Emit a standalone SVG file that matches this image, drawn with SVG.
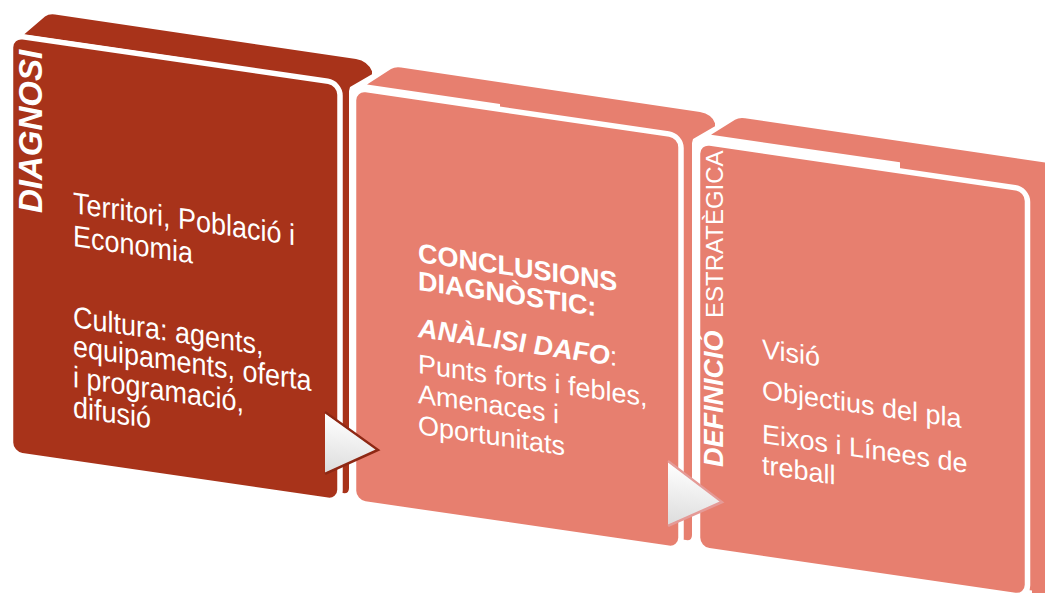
<svg xmlns="http://www.w3.org/2000/svg" width="1045" height="593" viewBox="0 0 1045 593">
<defs>
<style>
.c1{fill:#A8331A}
.c2{fill:#E77F6F}
.face{stroke:#FFFFFF;stroke-width:5.5}
.t{font-family:"Liberation Sans",Arial,sans-serif;fill:#FFFFFF;font-size:27px}
.big{font-size:30px}
.b{font-weight:bold}
.bi{font-weight:bold;font-style:italic}
.r{font-weight:normal;font-style:normal}
</style>
<linearGradient id="arrowFill" x1="0" y1="0" x2="0" y2="1">
<stop offset="0" stop-color="#FFFFFF"/>
<stop offset="1" stop-color="#DCDCDC"/>
</linearGradient>
</defs>
<rect width="1045" height="593" fill="#FFFFFF"/>
<g id="card1">
<g transform="skewY(8.3)">
<path class="c1" d="M24,31 L45,10 Q49,6.5 55,6.5 L356,7 Q368,7.5 372,17 L372,20 L350,36 L349,40 L349,437 Q349,443 343,443 L200,443 L200,31 Z"/>
<rect class="c1 face" x="10.5" y="33.5" width="329.5" height="419" rx="12"/>
<g transform="scale(0.9,1)">
<text class="t big" x="81.1" y="202.4">Territori, Població i</text>
<text class="t big" x="81.1" y="235.4">Economia</text>
<text class="t big" x="81.1" y="316.4">Cultura: agents,</text>
<text class="t big" x="81.1" y="345.4">equipaments, oferta</text>
<text class="t big" x="81.1" y="376.4">i programació,</text>
<text class="t big" x="81.1" y="406.4">difusió</text>
</g>
</g>
<text class="t bi" style="font-size:33px" transform="translate(42,213) rotate(-90)">DIAGNOSI</text>
</g>
<g id="card2">
<g transform="skewY(8.3)">
<path class="c2" d="M367,31 L391,12 Q395,9 401,9 L700,10 Q712,10.5 715,19 L715,22 L693,38 L692,42 L692,434 Q692,440 686,440 L500,440 L500,31 Z"/>
<rect class="c2 face" x="353.5" y="36.3" width="327.5" height="414.4" rx="12"/>
<text class="t b" x="418" y="201">CONCLUSIONS</text>
<text class="t b" x="418" y="229">DIAGNÒSTIC:</text>
<text class="t" x="418" y="276"><tspan class="bi">ANÀLISI DAFO</tspan><tspan class="r">:</tspan></text>
<text class="t" x="418" y="312">Punts forts i febles,</text>
<text class="t" x="418" y="342">Amenaces i</text>
<text class="t" x="418" y="373">Oportunitats</text>
</g>
</g>
<g id="card3">
<g transform="skewY(8.3)">
<path class="c2" d="M711,31 L735,12.5 Q739,9.5 745,9.5 L1070,10 L1070,420 L1032,455 L1032,440 L900,440 L900,31 Z"/>
<rect class="c2 face" x="697.5" y="39.5" width="330" height="407.8" rx="12"/>
<text class="t" x="762" y="246.8">Visió</text>
<text class="t" x="762" y="287.8">Objectius del pla</text>
<text class="t" x="762" y="331.8">Eixos i Línees de</text>
<text class="t" x="762" y="362.8">treball</text>
</g>
<text class="t" transform="translate(723,467) rotate(-90)"><tspan class="bi">DEFINICIÓ</tspan><tspan class="r" dx="12.5" style="font-size:24px">ESTRATÈGICA</tspan></text>
</g>
<g id="connectors">
<g transform="skewY(8.3)">
<polygon points="325,365.6 378,394.8 325,425.6" fill="url(#arrowFill)"/>
<polyline points="325,364.5 378,394.8 325,426.5" fill="none" stroke="#8E2814" stroke-width="2.5"/>
<polygon points="668,364.5 722,396.7 668,427.5" fill="url(#arrowFill)"/>
<polyline points="668,363.5 722,396.7 668,428.5" fill="none" stroke="#E59A96" stroke-width="2.5"/>
</g>
</g>
</svg>
